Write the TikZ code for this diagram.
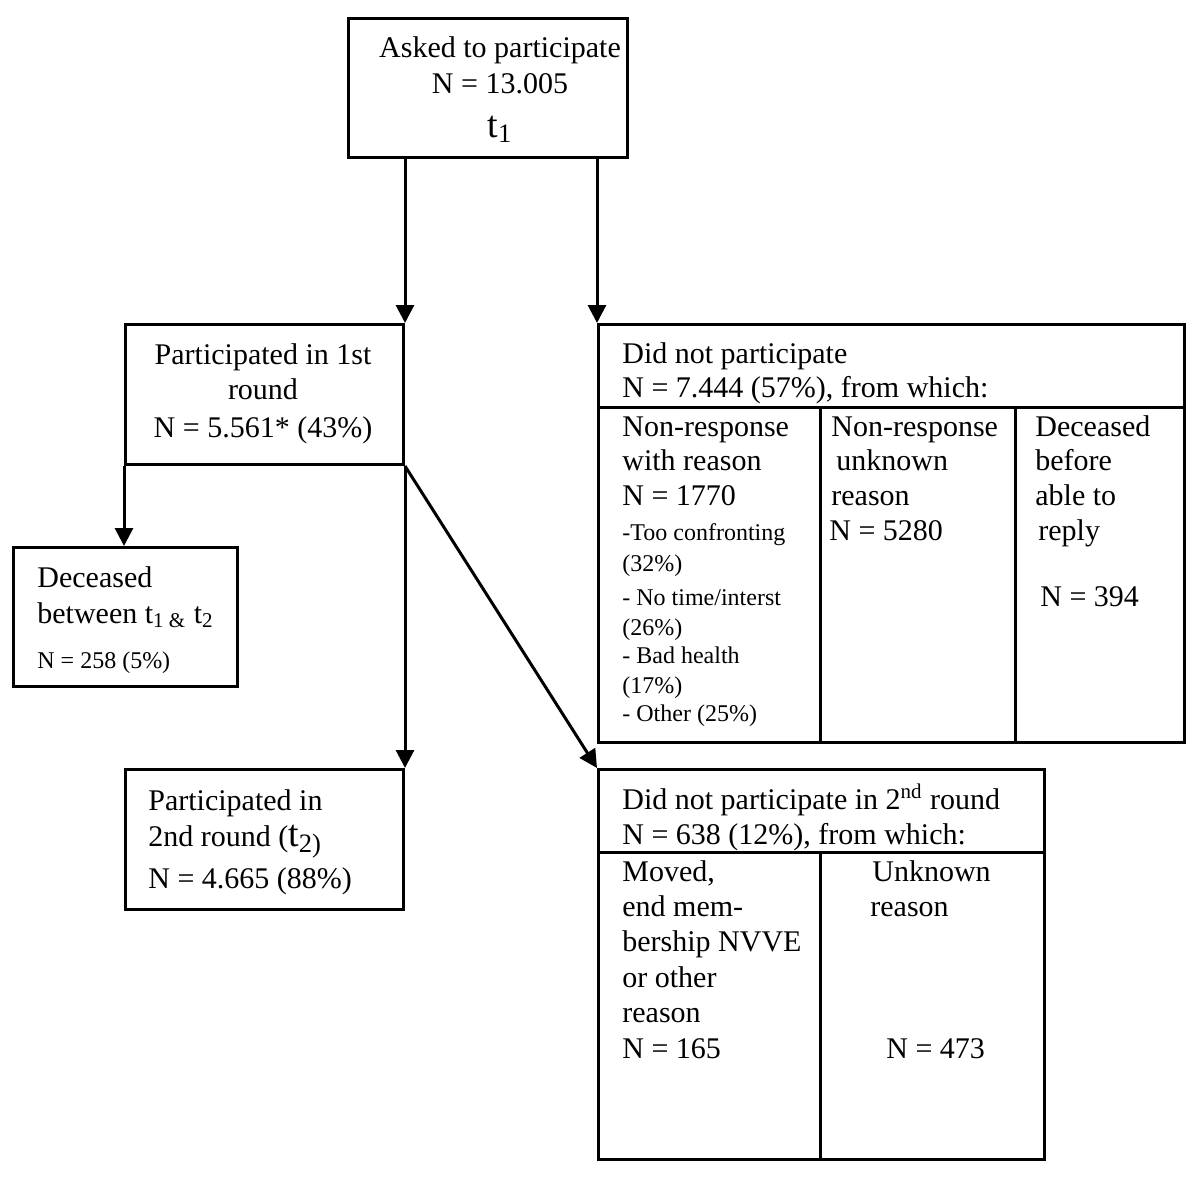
\documentclass[tikz,border=0pt]{standalone}
\usepackage{fontspec}
\setmainfont{Liberation Serif}
\usetikzlibrary{positioning}
\usetikzlibrary{calc}
\usetikzlibrary{arrows.meta}

\tikzset{
  box/.style={draw, line width=1.5pt, anchor=north west, inner sep=0pt},
  txt/.style={anchor=base west, inner sep=0pt, font=\fontsize{15}{18}\selectfont},
  ctxt/.style={txt, anchor=base},
  smalltxt/.style={txt, font=\fontsize{12}{14}\selectfont},
  flow/.style={line width=1.5pt, -{Triangle[length=9pt,width=9pt]}},
}
\newcommand{\bigt}[1]{{\fontsize{19}{20}\selectfont t\textsubscript{#1}}}

\begin{document}
\begin{tikzpicture}[x=0.5pt, y=-0.5pt]
\useasboundingbox (0,0) rectangle (1200,1183);

% boxes
\node[box, minimum width=139.5pt, minimum height=69.5pt] (asked) at (347,17) {};
\node[box, minimum width=139pt, minimum height=70pt] (p1) at (124,323) {};
\node[box, minimum width=293pt, minimum height=209pt] (dnp) at (597,323) {};
\node[box, minimum width=112pt, minimum height=69.5pt] (dec) at (12,546) {};
\node[box, minimum width=139pt, minimum height=70pt] (p2) at (124,768) {};
\node[box, minimum width=223pt, minimum height=195pt] (dnp2) at (597,768) {};

% inner lines of the two tables
\coordinate (dnpcut) at (597,407);
\coordinate (dnpcolA) at (820,407);
\coordinate (dnpcolB) at (1015,407);
\draw[line width=1.5pt] (dnpcut) -- (dnpcut -| dnp.east);
\draw[line width=1.5pt] (dnpcolA) -- (dnpcolA |- dnp.south);
\draw[line width=1.5pt] (dnpcolB) -- (dnpcolB |- dnp.south);
\coordinate (dnptwocut) at (597,852);
\coordinate (dnptwocol) at (820,852);
\draw[line width=1.5pt] (dnptwocut) -- (dnptwocut -| dnp2.east);
\draw[line width=1.5pt] (dnptwocol) -- (dnptwocol |- dnp2.south);

% arrows
\draw[flow] (asked.south -| p1.north east) -- (p1.north east);
\draw[flow] (asked.south -| dnp.north west) -- (dnp.north west);
\draw[flow] (p1.south west) -- (p1.south west |- dec.north);
\draw[flow] (p1.south east) -- (p2.north east);
\draw[flow] (p1.south east) -- (dnp2.north west);

% texts
\node[ctxt] (askedA) at (500,57) {Asked to participate};
\node[ctxt] (askedB) at (500,93) {N = 13.005};
\node[ctxt] (askedC) at (500,137) {\bigt{1}};

\node[ctxt] (pA) at (263,364) {Participated in 1st};
\node[ctxt] (pB) at (263,399) {round};
\node[ctxt] (pC) at (263,437) {N = 5.561* (43\%)};

\node[txt] (decA) at (37,587) {Deceased};
\node[txt] (decB) at (37,623) {between t\textsubscript{1 \&} t\textsubscript{2}};
\node[smalltxt] (decC) at (37,668) {N = 258 (5\%)};

\node[txt] (ptA) at (148,810) {Participated in};
\node[txt] (ptB) at (148,846) {2nd round (\bigt{2)}};
\node[txt] (ptC) at (148,888) {N = 4.665 (88\%)};

\node[txt] (dnpA) at (622,363) {Did not participate};
\node[txt] (dnpB) at (622,397) {N = 7.444 (57\%), from which:};
\foreach \s [count=\i] in {Non-response, with reason, N = 1770}
  \node[txt] (wr\i) at ({622},{436+34.5*(\i-1)}) {\s};
\node[smalltxt] (wrA) at (622,540) {-Too confronting};
\node[smalltxt] (wrB) at (622,571) {(32\%)};
\node[smalltxt] (wrC) at (622,605) {- No time/interst};
\node[smalltxt] (wrD) at (622,635) {(26\%)};
\node[smalltxt] (wrE) at (622,663) {- Bad health};
\node[smalltxt] (wrF) at (622,693) {(17\%)};
\node[smalltxt] (wrG) at (622,721) {- Other (25\%)};
\node[txt] (ukA) at (831,436) {Non-response};
\node[txt] (ukB) at (836,470) {unknown};
\node[txt] (ukC) at (831,505) {reason};
\node[txt] (ukD) at (829,540) {N = 5280};
\node[txt] (dbA) at (1035,436) {Deceased};
\node[txt] (dbB) at (1035,470) {before};
\node[txt] (dbC) at (1035,505) {able to};
\node[txt] (dbD) at (1038,540) {reply};
\node[txt] (dbE) at (1040,606) {N = 394};

\node[txt] (dnptA) at (622,809) {Did not participate in 2\textsuperscript{nd} round};
\node[txt] (dnptB) at (622,844) {N = 638 (12\%), from which:};
\foreach \s [count=\i] in {{Moved,}, end mem-, bership NVVE, or other, reason, N = 165}
  \node[txt] (mv\i) at ({622},{881+35.4*(\i-1)}) {\s};
\node[txt] (unA) at (872,881) {Unknown};
\node[txt] (unB) at (870,916) {reason};
\node[txt] (unC) at (886,1058) {N = 473};
\end{tikzpicture}
\end{document}
